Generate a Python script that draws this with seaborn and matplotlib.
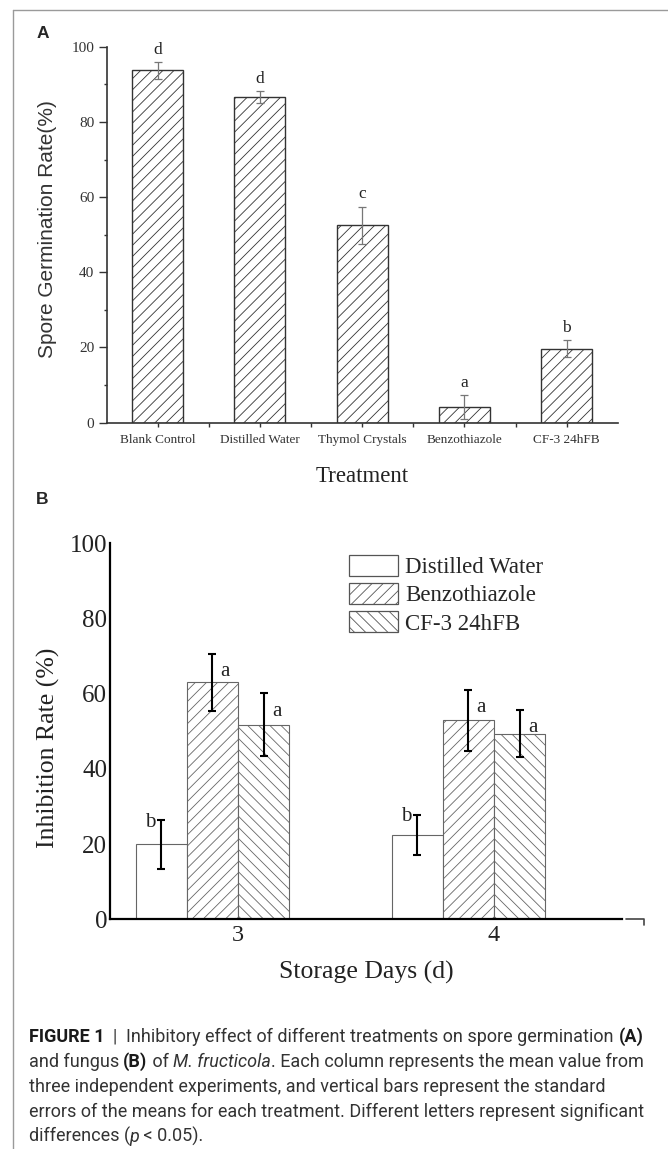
import matplotlib
matplotlib.use("Agg")
import matplotlib.pyplot as plt
import seaborn as sns
import pandas as pd
from matplotlib.lines import Line2D
from matplotlib.patches import Patch
from matplotlib import font_manager

# ---------------- data ----------------
# Panel A
treatments = ["Blank Control", "Distilled Water", "Thymol Crystals", "Benzothiazole", "CF-3 24hFB"]
germination = [93.7, 86.7, 52.5, 4.2, 19.7]
germination_err = [2.2, 1.6, 5.0, 3.2, 2.2]
germination_letters = ["d", "d", "c", "a", "b"]

# Panel B
days = ["3", "4"]
groups = ["Distilled Water", "Benzothiazole", "CF-3 24hFB"]
inhib_water = [19.9, 22.5]
inhib_benzo = [63.0, 52.9]
inhib_cf3 = [51.8, 49.4]
err_water = [6.4, 5.3]
err_benzo = [7.6, 8.1]
err_cf3 = [8.3, 6.3]
letters_water = ["b", "b"]
letters_benzo = ["a", "a"]
letters_cf3 = ["a", "a"]

# ---------------- style ----------------
sns.set_style("ticks")
plt.rcParams["font.family"] = ["Liberation Serif", "DejaVu Sans"]
plt.rcParams["hatch.linewidth"] = 0.6
plt.rcParams["axes.edgecolor"] = "#222222"

W, H = 668, 1149
fig = plt.figure(figsize=(W / 100, H / 100), dpi=100)
fig.patch.set_facecolor("white")


def fx(px):
    return px / W


def fy(py):
    return 1 - py / H


# ---------------- Panel A ----------------
axA = fig.add_axes([fx(106.5), fy(422.7), (617.8 - 106.5) / W, (422.7 - 46.7) / H])
dfA = pd.DataFrame({"Treatment": treatments, "Rate": germination})
sns.barplot(data=dfA, x="Treatment", y="Rate", order=treatments, color="white",
            edgecolor="#333333", linewidth=1.0, width=0.5, errorbar=None, ax=axA)
for patch, val, err, let in zip(axA.patches, germination, germination_err, germination_letters):
    patch.set_hatch("///")
    xc = patch.get_x() + patch.get_width() / 2
    axA.errorbar(xc, val, yerr=err, color="#777777", lw=0.9, capsize=3, capthick=0.9)
    axA.annotate(let, (xc, val + err), xytext=(0, 4), textcoords="offset pixels",
                 ha="center", va="bottom", fontsize=12.5, color="#222222", annotation_clip=False)

axA.set_xlim(-0.5, 4.5)
axA.set_ylim(0, 100)
axA.set_yticks(range(0, 101, 20))
axA.set_yticks(range(10, 100, 20), minor=True)
axA.set_xticks([0.5, 1.5, 2.5, 3.5], minor=True)
for s in ["top", "right"]:
    axA.spines[s].set_visible(False)
for s in ["left", "bottom"]:
    axA.spines[s].set_linewidth(1.2)
    axA.spines[s].set_color("#333333")
axA.tick_params(axis="y", which="major", length=5.8, width=1, direction="out", labelsize=11, pad=3,
                colors="#333333")
axA.tick_params(axis="y", which="minor", length=2.5, width=1, direction="out", colors="#333333")
axA.tick_params(axis="x", which="both", length=3, width=1, direction="out", labelsize=9.5, pad=5,
                colors="#333333")
axA.set_ylabel("Spore Germination Rate(%)", fontsize=15, family=["Liberation Sans", "DejaVu Sans"],
               color="#333333")
axA.yaxis.set_label_coords(-0.096, 0.515)
axA.set_xlabel("Treatment", fontsize=16.5, color="#222222")
axA.xaxis.set_label_coords(0.5, -0.115)

# ---------------- Panel B ----------------
axB = fig.add_axes([fx(110), fy(919.3), 512 / W, 376 / H])
rows = []
for g, vals in zip(groups, [inhib_water, inhib_benzo, inhib_cf3]):
    for d, v in zip(days, vals):
        rows.append((d, g, v))
dfB = pd.DataFrame(rows, columns=["Day", "Treatment", "Rate"])
hue_levels = groups + ["_pad"]
sns.barplot(data=dfB, x="Day", y="Rate", hue="Treatment", order=days, hue_order=hue_levels,
            palette={g: "white" for g in hue_levels}, width=0.8, dodge=True,
            edgecolor="#666666", linewidth=0.8, errorbar=None, legend=False, ax=axB)

hatches = {"Distilled Water": "", "Benzothiazole": "///", "CF-3 24hFB": "\\\\\\"}
lookup = []
for g, vals, errs, lets in zip(groups, [inhib_water, inhib_benzo, inhib_cf3],
                               [err_water, err_benzo, err_cf3],
                               [letters_water, letters_benzo, letters_cf3]):
    for v, e, l in zip(vals, errs, lets):
        lookup.append((v, e, l, g))

for patch in axB.patches:
    h = patch.get_height()
    if h <= 0:
        continue
    v, e, l, g = min(lookup, key=lambda r: abs(r[0] - h))
    patch.set_hatch(hatches[g])
    xc = patch.get_x() + patch.get_width() / 2
    axB.errorbar(xc, v, yerr=e, color="black", lw=1.5, capsize=3, capthick=1.5)
    if l == "b":
        off = (-11, -2)
    else:
        off = (13, -18)
    axB.annotate(l, (xc, v + e), xytext=off, textcoords="offset pixels", ha="center", va="center",
                 fontsize=15, color="#222222", annotation_clip=False)

axB.set_xlim(-0.5, 1.5)
axB.set_ylim(0, 100)
axB.set_yticks(range(0, 101, 20))
for s in ["top", "right"]:
    axB.spines[s].set_visible(False)
for s in ["left", "bottom"]:
    axB.spines[s].set_linewidth(1.6)
    axB.spines[s].set_color("black")
axB.tick_params(axis="y", length=0, labelsize=18, pad=2, colors="#222222")
axB.tick_params(axis="x", length=0, labelsize=17.5, pad=4, colors="#222222")
axB.set_ylabel("Inhibition Rate (%)", fontsize=18.5, color="#222222")
axB.yaxis.set_label_coords(-0.098, 0.456)
axB.set_xlabel("Storage Days (d)", fontsize=18.5, color="#222222")
axB.xaxis.set_label_coords(0.5, -0.11)

handles = [Patch(facecolor="white", edgecolor="#555555", linewidth=0.9, hatch=hatches[g], label=g)
           for g in groups]
axB.legend(handles=handles, loc="upper left", bbox_to_anchor=(fx(349.4), fy(555)),
           bbox_transform=fig.transFigure, frameon=False, borderpad=0, borderaxespad=0,
           handlelength=2.14, handleheight=1.05, handletextpad=0.3, labelspacing=0.2,
           prop={"family": "Liberation Serif", "size": 16.5})

# little axis-end mark
axB.add_line(Line2D([1.008, 1.043, 1.043], [0, 0, -0.016], transform=axB.transAxes,
                    color="#444444", lw=1.2, clip_on=False))

# ---------------- panel letters & border ----------------
fig.text(fx(42.6), fy(33), "A", fontsize=12.5, weight="bold", family=["Liberation Sans", "DejaVu Sans"],
         ha="center", va="center")
fig.text(fx(42.6), fy(500), "B", fontsize=12.5, weight="bold", family=["Liberation Sans", "DejaVu Sans"],
         ha="center", va="center")
fig.add_artist(Line2D([fx(13), fx(13)], [0, fy(10)], transform=fig.transFigure, color="#9a9a9a", lw=1))
fig.add_artist(Line2D([fx(13), 1], [fy(10), fy(10)], transform=fig.transFigure, color="#9a9a9a", lw=1))


# ---------------- caption ----------------
def has_font(name):
    try:
        font_manager.findfont(font_manager.FontProperties(family=name), fallback_to_default=False)
        return True
    except Exception:
        return False


cap_family = "Liberation Sans Narrow" if has_font("Liberation Sans Narrow") else "Roboto"
renderer = fig.canvas.get_renderer()


def text_width(s, size, weight, style):
    kw = dict(fontsize=size, family=[cap_family, "DejaVu Sans"], weight=weight, style=style)
    t = fig.text(0, 0, "|" + s + "|", **kw)
    w1 = t.get_window_extent(renderer).width
    t.remove()
    t = fig.text(0, 0, "||", **kw)
    w2 = t.get_window_extent(renderer).width
    t.remove()
    return w1 - w2


N, B, I = ("normal", "normal"), ("bold", "normal"), ("normal", "italic")
caption_lines = [
    [("FIGURE 1", B), ("  |  ", N), ("Inhibitory effect of different treatments on spore germination ", N),
     ("(A)", B)],
    [("and fungus ", N), ("(B)", B), (" of ", N), ("M. fructicola", I),
     (". Each column represents the mean value from", N)],
    [("three independent experiments, and vertical bars represent the standard", N)],
    [("errors of the means for each treatment. Different letters represent significant", N)],
    [("differences (", N), ("p", I), (" < 0.05).", N)],
]
base = 10.0
w_line1 = sum(text_width(s, base, st[0], st[1]) for s, st in caption_lines[0])
cap_size = base * 614 / w_line1

baselines = [1041.7, 1066.7, 1091.7, 1116.7, 1141.7]
for line, yb in zip(caption_lines, baselines):
    x = 28.5
    for s, (wt, st) in line:
        col = "#1a1a1a" if wt == "bold" else "#333333"
        fig.text(fx(x), fy(yb), s, fontsize=cap_size, family=[cap_family, "DejaVu Sans"], weight=wt,
                 style=st, color=col, ha="left", va="baseline")
        x += text_width(s, cap_size, wt, st)

fig.savefig("out.png", dpi=100)
